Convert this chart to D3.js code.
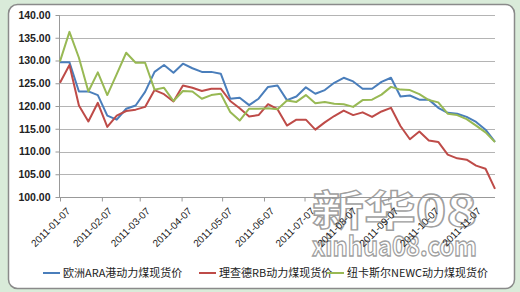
<!DOCTYPE html>
<html>
<head>
<meta charset="utf-8">
<script src="https://cdn.jsdelivr.net/npm/d3@7"></script>
<style>
  body { margin: 0; background: #d9ebd9; }
  svg { display: block; }
</style>
</head>
<body>
<div id="chart"></div>
<script>
var startDate = "2011-01-07";
var seriesNames = ["欧洲ARA港动力煤现货价", "理查德RB动力煤现货价", "纽卡斯尔NEWC动力煤现货价"];
var ara = [129.6, 129.6, 123.2, 123.2, 122.4, 117.9, 117.0, 119.4, 120.1, 123.1, 127.5, 129.0, 127.3, 129.3, 128.3, 127.5, 127.5, 127.1, 121.6, 121.8, 120.2, 121.6, 124.2, 124.5, 121.3, 122.1, 124.1, 122.7, 123.5, 125.1, 126.2, 125.4, 123.8, 123.8, 125.3, 126.2, 122.1, 122.3, 121.4, 121.4, 119.6, 118.5, 118.3, 117.6, 116.5, 114.8, 112.1];
var rb = [125.1, 129.0, 120.1, 116.6, 120.7, 115.4, 117.9, 118.9, 119.2, 119.8, 123.5, 122.6, 121.0, 124.5, 124.0, 123.3, 123.8, 123.8, 121.1, 119.5, 117.7, 118.0, 120.4, 119.3, 115.7, 117.0, 117.0, 114.8, 116.4, 117.8, 119.0, 118.0, 118.6, 117.6, 118.8, 119.6, 115.6, 112.7, 114.4, 112.4, 112.1, 109.3, 108.5, 108.2, 106.9, 106.2, 101.8];
var newc = [129.8, 136.3, 130.6, 123.2, 127.4, 122.4, 127.0, 131.7, 129.5, 129.5, 123.6, 124.0, 121.1, 123.3, 123.2, 121.6, 122.4, 122.7, 118.7, 116.8, 119.4, 119.4, 119.5, 119.3, 121.2, 120.9, 122.4, 120.6, 120.9, 120.5, 120.4, 119.8, 121.3, 121.4, 122.5, 124.2, 123.6, 123.5, 122.6, 121.3, 120.8, 118.3, 118.0, 117.1, 115.7, 114.2, 112.1];
var tickDates = ["2011-01-07", "2011-02-07", "2011-03-07", "2011-04-07", "2011-05-07", "2011-06-07", "2011-07-07", "2011-08-07", "2011-09-07", "2011-10-07", "2011-11-07"];
var yTicks = [100, 105, 110, 115, 120, 125, 130, 135, 140];
var colors = ["#4a7ebb", "#be4b48", "#98b954"];

var width = 520, height = 292;
var parse = d3.timeParse("%Y-%m-%d");
var fmt = d3.timeFormat("%Y-%m-%d");
var t0 = parse(startDate);
var dates = ara.map(function(d, i) { return d3.timeDay.offset(t0, i * 7); });

var svg = d3.select("#chart").append("svg")
    .attr("width", width)
    .attr("height", height);

svg.append("rect")
    .attr("x", 8.5).attr("y", 4.5)
    .attr("width", 506).attr("height", 284)
    .attr("rx", 9).attr("ry", 9)
    .attr("fill", "#fff")
    .attr("stroke", "#8a8a8a")
    .attr("stroke-width", 1.5);

var x = d3.scaleTime()
    .domain([dates[0], dates[dates.length - 1]])
    .range([60, 495]);
var y = d3.scaleLinear()
    .domain([100, 140])
    .range([197, 15]);

// grid
svg.append("g")
    .selectAll("line")
    .data(yTicks.slice(1))
    .enter().append("line")
    .attr("x1", 59).attr("x2", 495)
    .attr("y1", function(d) { return Math.round(y(d)) + 0.5; })
    .attr("y2", function(d) { return Math.round(y(d)) + 0.5; })
    .attr("stroke", "#b4b4b4")
    .attr("stroke-width", 1);

var yAxis = svg.append("g")
    .attr("transform", "translate(59.5,0)")
    .call(d3.axisLeft(y).tickValues(yTicks).tickSize(4).tickPadding(5).tickFormat(d3.format(".2f")));
yAxis.select(".domain").attr("stroke", "#999").attr("d", "M0," + y(140) + "V" + y(100));
yAxis.selectAll(".tick line").attr("stroke", "#999");
yAxis.selectAll("text")
    .attr("font-family", "Liberation Sans, Arial, sans-serif")
    .attr("font-size", 10.5)
    .attr("font-weight", "bold")
    .attr("fill", "#222");

var line = d3.line()
    .x(function(d, i) { return x(dates[i]); })
    .y(function(d) { return y(d); });

[ara, rb, newc].forEach(function(s, k) {
    svg.append("path")
        .datum(s)
        .attr("d", line)
        .attr("fill", "none")
        .attr("stroke", colors[k])
        .attr("stroke-width", 2)
        .attr("stroke-linejoin", "round");
});

// watermark (translucent, under the tick labels)
var wm = svg.append("g")
    .attr("font-family", "Noto Sans CJK SC, sans-serif")
    .attr("font-weight", "bold")
    .attr("fill", "#fff")
    .attr("fill-opacity", 0.8)
    .attr("stroke", "#a0a0a0")
    .attr("stroke-width", 1.3);
wm.append("text")
    .attr("x", 312).attr("y", 226)
    .attr("font-size", 42)
    .attr("textLength", 165)
    .attr("lengthAdjust", "spacingAndGlyphs")
    .text("新华08");
wm.append("text")
    .attr("x", 312).attr("y", 256)
    .attr("font-size", 27)
    .attr("textLength", 165)
    .attr("lengthAdjust", "spacingAndGlyphs")
    .text("xinhua08.com");

var xAxis = svg.append("g")
    .attr("transform", "translate(0," + (Math.round(y(100)) + 0.5) + ")")
    .call(d3.axisBottom(x).tickValues(tickDates.map(parse)).tickSize(4).tickFormat(fmt));
xAxis.select(".domain").attr("stroke", "#999").attr("d", "M59,0H495");
xAxis.selectAll(".tick line").attr("stroke", "#999");
xAxis.selectAll("text")
    .attr("font-family", "Liberation Sans, Arial, sans-serif")
    .attr("font-size", 10)
    .attr("fill", "#222")
    .attr("text-anchor", "end")
    .attr("dy", "0.35em")
    .attr("transform", "translate(3,7) rotate(-45)");

// legend
var legendX = [43, 199, 327];
var legend = svg.append("g");
seriesNames.forEach(function(name, k) {
    legend.append("line")
        .attr("x1", legendX[k]).attr("x2", legendX[k] + 17)
        .attr("y1", 273).attr("y2", 273)
        .attr("stroke", colors[k]).attr("stroke-width", 2);
    legend.append("text")
        .attr("x", legendX[k] + 20).attr("y", 277)
        .attr("font-family", "Noto Sans CJK SC, sans-serif")
        .attr("font-size", 11)
        .attr("fill", "#222")
        .text(name);
});
</script>
</body>
</html>
